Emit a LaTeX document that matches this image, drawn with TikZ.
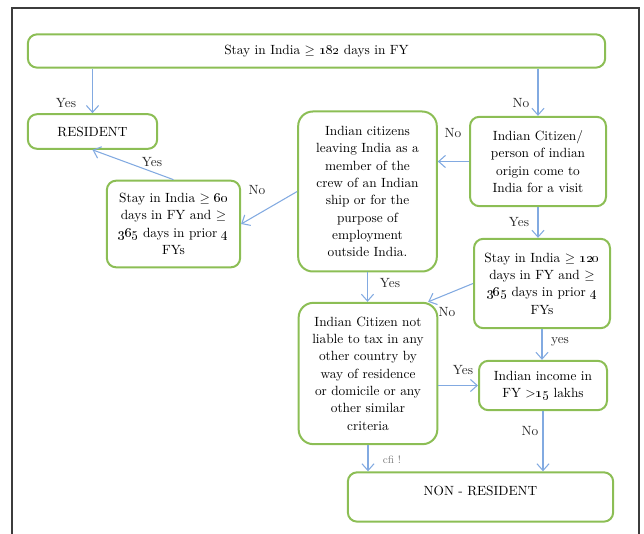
\documentclass[tikz,border=0pt]{standalone}
\usepackage{amsmath,amssymb}
\usepackage{tikz}
\usetikzlibrary{positioning,arrows.meta}

\definecolor{boxgreen}{RGB}{140,190,85}
\definecolor{arrblue}{RGB}{130,170,225}
\definecolor{framegray}{RGB}{60,60,60}

\begin{document}
\begin{tikzpicture}[
    x=0.75pt, y=-0.75pt,
    font=\fontsize{10}{13}\selectfont,
    box/.style={rectangle, draw=boxgreen, line width=1.5pt, rounded corners=7pt,
      align=center, inner sep=1.5mm},
    bigbox/.style={box, rounded corners=11pt},
    arr/.style={-{Straight Barb[length=1.8mm,width=3.2mm]}, arrblue, line width=0.8pt},
    lbl/.style={inner sep=1pt, text=black!85}
  ]

  \useasboundingbox (0,0) rectangle (644,534);
  \draw[framegray, line width=1.2pt] (12,534) -- (12,8) -- (639,8) -- (639,534);

  \node[box, minimum width=433pt, minimum height=25pt] (top) at (316.5,51)
    {Stay in India $\geq$ \oldstylenums{182} days in FY};
  \node[box, minimum width=97pt, minimum height=26pt] (res) at (92.5,131.5) {RESIDENT};
  \node[box, minimum width=100pt, minimum height=65pt] (stay60) at (173.5,224)
    {Stay in India $\geq$ \oldstylenums{60}\\ days in FY and $\geq$\\
     \oldstylenums{365} days in prior \oldstylenums{4}\\ FYs};

  \node[bigbox, minimum width=104pt, minimum height=120pt] (crew) at (367.5,191.5)
    {Indian citizens\\ leaving India as a\\ member of the\\ crew of an Indian\\
     ship or for the\\ purpose of\\ employment\\ outside India.};
  \node[box, minimum width=102pt, minimum height=67pt] (visit) at (538,161.5)
    {Indian Citizen/\\ person of indian\\ origin come to\\ India for a visit};
  \node[box, minimum width=102pt, minimum height=67pt] (stay120) at (542,283.5)
    {Stay in India $\geq$ \oldstylenums{120}\\ days in FY and $\geq$\\
     \oldstylenums{365} days in prior \oldstylenums{4}\\ FYs};

  \node[bigbox, minimum width=104pt, minimum height=106pt] (notliable) at (368,373.5)
    {Indian Citizen not\\ liable to tax in any\\ other country by\\ way of residence\\
     or domicile or any\\ other similar\\ criteria};
  \node[box, minimum width=96pt, minimum height=37pt] (income) at (543,385.5)
    {Indian income in\\ FY >\oldstylenums{15} lakhs};
  \node[box, minimum width=199pt, minimum height=37pt] (nonres) at (480.5,497)
    {NON - RESIDENT\\[-3pt]};

  \draw[arr] (top.south -| res.north) -- (res.north);
  \draw[arr] (top.south -| visit.north) -- (visit.north);
  \draw[arr] (visit.west) -- (visit.west -| crew.east);
  \draw[arr] (crew.west) -- (stay60.east);
  \draw[arr] (stay60.north) -- (res.south);
  \draw[arr] (visit.south) -- (visit.south |- stay120.north);
  \draw[arr] (crew.south) -- (crew.south |- notliable.north);
  \draw[arr] (stay120.west) -- (notliable.50);
  \draw[arr] (stay120.south) -- (stay120.south |- income.north);
  \draw[arr] (notliable.east |- income.west) -- (income.west);
  \draw[arr] (income.south) -- (income.south |- nonres.north);
  \draw[arr] (notliable.south) -- (notliable.south |- nonres.north);

  \node[lbl] (yes1) at (66,103)  {Yes};
  \node[lbl] (no1)  at (521,103) {No};
  \node[lbl] (no2)  at (453,133) {No};
  \node[lbl] (no3)  at (257,190) {No};
  \node[lbl] (yes2) at (152,162) {Yes};
  \node[lbl] (yes3) at (519,222) {Yes};
  \node[lbl] (yes4) at (390,283) {Yes};
  \node[lbl] (no4)  at (447,312) {No};
  \node[lbl] (yes5) at (560,342) {yes};
  \node[lbl] (yes6) at (463,370) {Yes};
  \node[lbl] (no5)  at (530,431) {No};
  \node[lbl, text=gray, font=\footnotesize] (cfi) at (392,460) {cfi !};
\end{tikzpicture}
\end{document}
